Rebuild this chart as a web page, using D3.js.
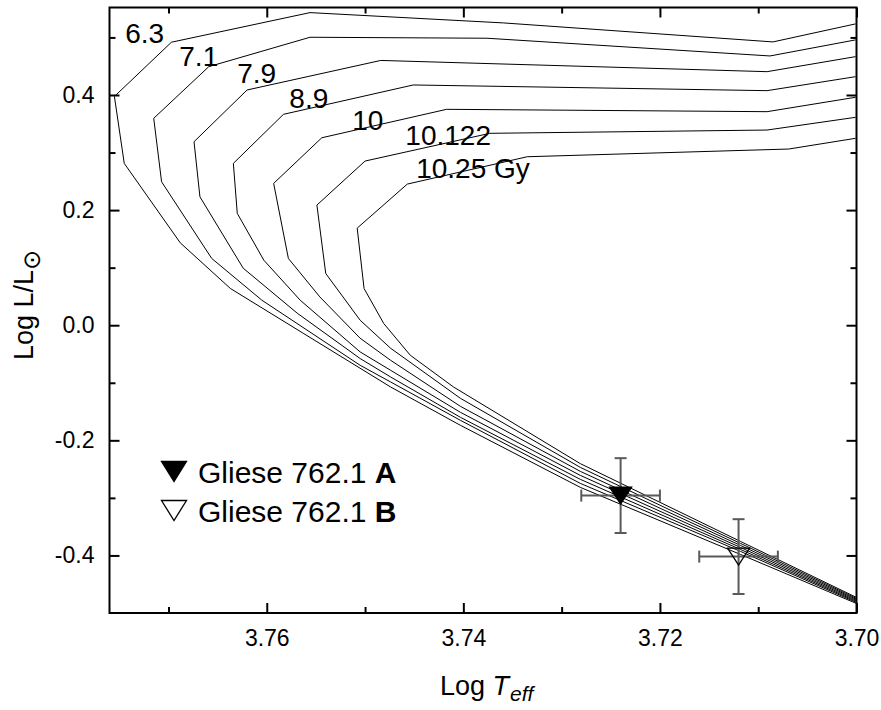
<!DOCTYPE html>
<html><head><meta charset="utf-8">
<script src="https://cdn.jsdelivr.net/npm/d3@7"></script>
<style>
body{margin:0;background:#fff}
text{font-family:"Liberation Sans",Arial,Helvetica,sans-serif;fill:#000}
</style>
</head><body>
<svg id="c" width="881" height="710"></svg>
<script>
// ---- data (Log Teff, Log L/Lsun) ----
const iso63 = [[3.7001,0.5235],[3.7085,0.4922],[3.7359,0.5252],[3.7556,0.5431],[3.7697,0.4917],[3.7755,0.3974],[3.7745,0.2812],[3.7688,0.1431],[3.7637,0.0638],[3.7563,-0.0139],[3.7474,-0.1073],[3.7403,-0.1739],[3.7281,-0.2817],[3.7118,-0.3983],[3.7000,-0.4835]];
const iso71 = [[3.7001,0.4957],[3.7088,0.4678],[3.7376,0.4986],[3.7556,0.5003],[3.7659,0.4492],[3.7715,0.3595],[3.7707,0.2492],[3.7656,0.1160],[3.7605,0.0435],[3.7505,-0.0696],[3.7474,-0.0986],[3.7403,-0.1652],[3.7281,-0.2748],[3.7118,-0.3930],[3.7000,-0.4817]];
const iso79 = [[3.7001,0.4666],[3.7091,0.4405],[3.7484,0.4600],[3.7620,0.4087],[3.7674,0.3188],[3.7668,0.2231],[3.7624,0.0991],[3.7569,0.0209],[3.7505,-0.0579],[3.7474,-0.0899],[3.7403,-0.1600],[3.7281,-0.2678],[3.7118,-0.3896],[3.7000,-0.4800]];
const iso89 = [[3.7001,0.4318],[3.7091,0.4075],[3.7451,0.4174],[3.7583,0.3664],[3.7634,0.2812],[3.7630,0.1943],[3.7603,0.1130],[3.7566,0.0435],[3.7505,-0.0464],[3.7474,-0.0783],[3.7403,-0.1513],[3.7281,-0.2609],[3.7118,-0.3861],[3.7000,-0.4783]];
const iso100 = [[3.7001,0.3960],[3.7091,0.3710],[3.7417,0.3751],[3.7544,0.3257],[3.7593,0.2464],[3.7578,0.1160],[3.7546,0.0492],[3.7505,-0.0226],[3.7474,-0.0609],[3.7403,-0.1409],[3.7281,-0.2539],[3.7118,-0.3826],[3.7000,-0.4765]];
const iso10122 = [[3.7001,0.3612],[3.7091,0.3391],[3.7373,0.3334],[3.7500,0.2852],[3.7549,0.2087],[3.7540,0.0899],[3.7505,0.0087],[3.7474,-0.0400],[3.7403,-0.1270],[3.7281,-0.2470],[3.7118,-0.3791],[3.7000,-0.4748]];
const iso1025 = [[3.7001,0.3247],[3.7069,0.3061],[3.7335,0.2927],[3.7457,0.2452],[3.7508,0.1687],[3.7501,0.0638],[3.7481,0.0030],[3.7454,-0.0522],[3.7410,-0.1073],[3.7281,-0.2405],[3.7118,-0.3757],[3.7000,-0.4730]];
const isochrones = [iso63, iso71, iso79, iso89, iso100, iso10122, iso1025];
const isoLabels = ["6.3","7.1","7.9","8.9","10","10.122","10.25 Gy"];
const isoLabelAt = [[3.7744,0.4896],[3.7689,0.4504],[3.7630,0.4209],[3.7577,0.3774],[3.7513,0.3391],[3.7459,0.3130],[3.7448,0.2557]];

const starNames = ["A","B"];
const starTeff = [3.724, 3.712];
const starTeffErr = [0.004, 0.004];
const starLogL = [-0.296, -0.402];
const starLogLErr = [0.065, 0.065];

const xMajor = [3.70,3.72,3.74,3.76];
const xMinor = [3.71,3.73,3.75,3.77];
const yMajor = [-0.4,-0.2,0.0,0.2,0.4];
const yMinor = [-0.3,-0.1,0.1,0.3,0.5];

// ---- layout ----
const svg = d3.select("#c");
const m = {l:109.5, r:856.5, t:7.5, b:613};
const x = d3.scaleLinear().domain([3.776,3.70]).range([m.l,m.r]);
const y = d3.scaleLinear().domain([-0.5,0.552]).range([m.b,m.t]);

svg.append("defs").append("clipPath").attr("id","pc")
  .append("rect").attr("x",m.l).attr("y",m.t).attr("width",m.r-m.l).attr("height",m.b-m.t);

const line = d3.line().x(d=>x(d[0])).y(d=>y(d[1]));
const plot = svg.append("g").attr("clip-path","url(#pc)");
plot.selectAll("path.iso").data(isochrones).join("path")
  .attr("class","iso").attr("d",line)
  .attr("fill","none").attr("stroke","#000").attr("stroke-width",1);

// labels
svg.selectAll("text.lab").data(isoLabels).join("text")
  .attr("class","lab")
  .attr("x",(d,i)=>x(isoLabelAt[i][0]))
  .attr("y",(d,i)=>y(isoLabelAt[i][1]))
  .attr("font-size",28).text(d=>d);

// error bars
const stars = starNames.map((n,i)=>({n,t:starTeff[i],te:starTeffErr[i],l:starLogL[i],le:starLogLErr[i]}));
const eb = svg.append("g").attr("stroke","#5a5a5a").attr("stroke-width",2).attr("fill","none");
const cap = 6;
stars.forEach(s=>{
  const cx=x(s.t), cy=y(s.l);
  const x1=x(s.t+s.te), x2=x(s.t-s.te), y1=y(s.l+s.le), y2=y(s.l-s.le);
  eb.append("line").attr("x1",cx).attr("x2",cx).attr("y1",y1).attr("y2",y2);
  eb.append("line").attr("x1",x1).attr("x2",x2).attr("y1",cy).attr("y2",cy);
  eb.append("line").attr("x1",cx-cap).attr("x2",cx+cap).attr("y1",y1).attr("y2",y1);
  eb.append("line").attr("x1",cx-cap).attr("x2",cx+cap).attr("y1",y2).attr("y2",y2);
  eb.append("line").attr("x1",x1).attr("x2",x1).attr("y1",cy-cap).attr("y2",cy+cap);
  eb.append("line").attr("x1",x2).attr("x2",x2).attr("y1",cy-cap).attr("y2",cy+cap);
});
function tri(cx,cy,w,h){return `M${cx-w/2},${cy-h/2}L${cx+w/2},${cy-h/2}L${cx},${cy+h/2}Z`;}
svg.selectAll("path.star").data(stars).join("path").attr("class","star")
  .attr("d",s=>tri(x(s.t),y(s.l),22,17))
  .attr("fill",(s,i)=>i===0?"#000":"none")
  .attr("stroke","#000").attr("stroke-width",1.3);

// axes
function styleAxis(g){
  g.select(".domain").remove();
  g.selectAll(".tick line").attr("stroke","#000").attr("stroke-width",2);
  g.selectAll(".tick text").attr("font-size",23).attr("font-family",'"Liberation Sans",Arial,sans-serif').attr("fill","#000");
}
svg.append("g").attr("transform",`translate(0,${m.b})`)
  .call(d3.axisBottom(x).tickValues(xMajor).tickSizeInner(-10).tickSizeOuter(0).tickPadding(17).tickFormat(d=>d.toFixed(2))).call(styleAxis);
svg.append("g").attr("transform",`translate(0,${m.b})`)
  .call(d3.axisBottom(x).tickValues(xMinor).tickSizeInner(-6).tickSizeOuter(0).tickFormat("")).call(styleAxis);
svg.append("g").attr("transform",`translate(0,${m.t})`)
  .call(d3.axisTop(x).tickValues(xMajor).tickSizeInner(-10).tickSizeOuter(0).tickFormat("")).call(styleAxis);
svg.append("g").attr("transform",`translate(0,${m.t})`)
  .call(d3.axisTop(x).tickValues(xMinor).tickSizeInner(-6).tickSizeOuter(0).tickFormat("")).call(styleAxis);
svg.append("g").attr("transform",`translate(${m.l},0)`)
  .call(d3.axisLeft(y).tickValues(yMajor).tickSizeInner(-10).tickSizeOuter(0).tickPadding(15).tickFormat(d=>d.toFixed(1))).call(styleAxis);
svg.append("g").attr("transform",`translate(${m.l},0)`)
  .call(d3.axisLeft(y).tickValues(yMinor).tickSizeInner(-6).tickSizeOuter(0).tickFormat("")).call(styleAxis);
svg.append("g").attr("transform",`translate(${m.r},0)`)
  .call(d3.axisRight(y).tickValues(yMajor).tickSizeInner(-10).tickSizeOuter(0).tickFormat("")).call(styleAxis);
svg.append("g").attr("transform",`translate(${m.r},0)`)
  .call(d3.axisRight(y).tickValues(yMinor).tickSizeInner(-6).tickSizeOuter(0).tickFormat("")).call(styleAxis);

svg.append("rect").attr("x",m.l).attr("y",m.t).attr("width",m.r-m.l).attr("height",m.b-m.t)
  .attr("fill","none").attr("stroke","#000").attr("stroke-width",2);

// axis titles
const xt = svg.append("text").attr("x",440).attr("y",695).attr("font-size",27);
xt.append("tspan").text("Log ");
xt.append("tspan").attr("font-style","italic").text("T");
xt.append("tspan").attr("font-style","italic").attr("font-size",21).attr("dy",6).attr("dx",1).text("eff");

const yt = svg.append("text").attr("transform","translate(33,360) rotate(-90)").attr("font-size",27);
yt.append("tspan").text("Log L/L");
yt.append("tspan").attr("font-size",24).attr("dy",7).attr("font-family","DejaVu Sans").text("\u2299");

// legend
const lg = svg.append("g");
const legRows = [0,1];
lg.selectAll("path").data(legRows).join("path")
  .attr("d",i=>tri(174,471.5+i*39,25,20))
  .attr("fill",i=>i===0?"#000":"#fff").attr("stroke","#000").attr("stroke-width",1.3);
legRows.forEach(i=>{
  const t = lg.append("text").attr("x",198).attr("y",482.5+i*39).attr("font-size",30);
  t.append("tspan").text("Gliese 762.1 ");
  t.append("tspan").attr("font-weight","bold").text(starNames[i]);
});
</script>
</body></html>
